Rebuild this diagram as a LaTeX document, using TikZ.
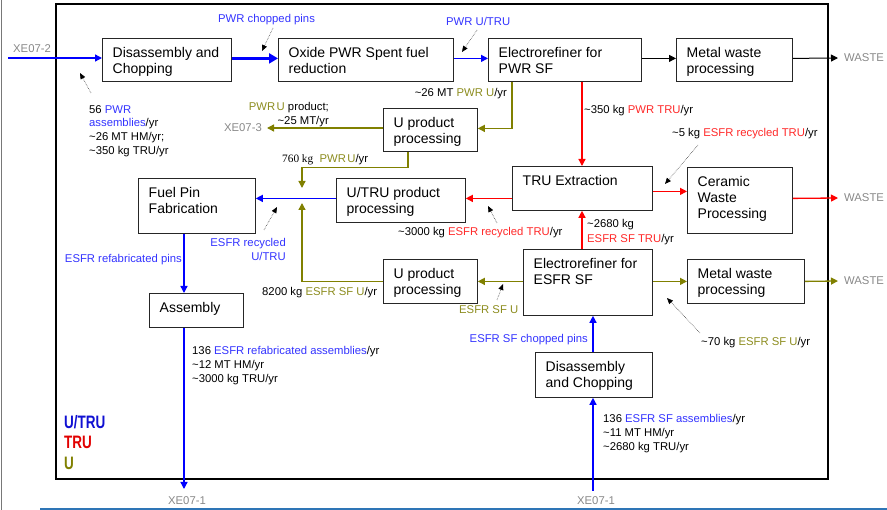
\documentclass[tikz,border=0pt]{standalone}
\usepackage{fontspec}
\usepackage{graphicx}
\setmainfont{Liberation Sans}
\newfontfamily\timesfont{Liberation Serif}
\usetikzlibrary{arrows.meta}

\definecolor{flowblue}{RGB}{0,0,255}
\definecolor{flowred}{RGB}{255,0,0}
\definecolor{flowolive}{RGB}{128,128,0}
\definecolor{labblue}{RGB}{51,51,255}
\definecolor{labred}{RGB}{255,40,40}
\definecolor{labolive}{RGB}{140,140,30}
\definecolor{extgray}{RGB}{136,136,136}
\definecolor{legblue}{RGB}{16,16,210}
\definecolor{legred}{RGB}{225,0,0}
\definecolor{rulegray}{RGB}{120,120,120}
\definecolor{ruleblue}{RGB}{46,117,182}

\newcommand\inblue[1]{\textcolor{labblue}{#1}}
\newcommand\inred[1]{\textcolor{labred}{#1}}
\newcommand\inolive[1]{\textcolor{labolive}{#1}}
\newcommand\apx{\textasciitilde}

% process box: name, x1, y1, x2, y2, text (text hangs from the top left corner)
\newcommand\stagebox[6]{%
  \node[stage, minimum width={(#4-#2)*1pt}, minimum height={(#5-#3)*1pt}] (#1) at (#2,#3) {};
  \node[stagetext] (#1-t) at ([shift={(10.5,8.8)}]#1.north west) {#6};
}

\begin{document}
\begin{tikzpicture}[x=1pt,y=-1pt,
  stage/.style={draw=black!85, line width=0.8pt, inner sep=0, anchor=north west},
  stagetext/.style={anchor=north west, inner sep=0, align=left, font=\fontsize{14}{16}\selectfont},
  lab/.style={inner sep=0, align=left, font=\fontsize{11.3}{13.8}\selectfont},
  ext/.style={inner sep=0, text=extgray, font=\fontsize{11.3}{13.8}\selectfont},
  legend/.style={inner sep=0, anchor=base west, font=\fontsize{18}{18}\selectfont\bfseries},
  flow/.style={line width=1.3pt, -{Triangle[length=7pt,width=7pt]}},
  fb/.style={flow, draw=flowblue},
  fr/.style={flow, draw=flowred},
  fo/.style={flow, draw=flowolive},
  fk/.style={flow, draw=black, line width=1pt},
  ptr/.style={densely dotted, line width=0.6pt, draw=black!75, -{Triangle[length=6pt,width=5pt,black]}}]

\useasboundingbox (0,0) rectangle (887,510);

% page rules and the system boundary
\draw[rulegray, line width=1pt] (1,0) -- (1,510);
\draw[ruleblue, line width=1.2pt] (40,509) -- (887,509);
\draw[line width=2pt] (56,4) rectangle (828,479);

% process stages
\stagebox{b1}{102}{38}{231}{81}{Disassembly and\\Chopping}
\stagebox{b2}{278}{38}{453}{81}{Oxide PWR Spent fuel\\reduction}
\stagebox{b3}{488}{38}{641}{81}{Electrorefiner for\\PWR SF}
\stagebox{b4}{676}{38}{792}{81}{Metal waste\\processing}
\stagebox{b5}{383}{108}{477}{151}{U product\\processing}
\stagebox{b6}{512}{166}{652}{210}{TRU Extraction}
\stagebox{b7}{687}{167}{792}{233}{Ceramic\\Waste\\Processing}
\stagebox{b8}{138}{178}{255}{233}{Fuel Pin\\Fabrication}
\stagebox{b9}{336}{178}{465}{222}{U/TRU product\\processing}
\stagebox{b10}{383}{259}{477}{303}{U product\\processing}
\stagebox{b11}{523}{249}{652}{315}{Electrorefiner for\\ESFR SF}
\stagebox{b12}{687}{259}{804}{303}{Metal waste\\processing}
\stagebox{b13}{149}{293}{243}{327}{Assembly}
\stagebox{b14}{535}{352}{652}{397}{Disassembly\\and Chopping}

% external streams
\node[ext, anchor=base west] (xe2) at (13,53) {XE07-2};
\node[ext, anchor=east] (xe3) at (262,128) {XE07-3};
\node[ext] (xe1a) at (187,501) {XE07-1};
\node[ext] (xe1b) at (596,501) {XE07-1};
\node[ext, anchor=west] (w1) at (844,58) {WASTE};
\node[ext, anchor=west] (w2) at (844,198) {WASTE};
\node[ext, anchor=west] (w3) at (844,281) {WASTE};

\coordinate (src2) at (8,58);
\coordinate (src1) at (593,491);
\coordinate (out1) at (184,489);
\coordinate (mergeD) at (302,188);
\coordinate (mergeU) at (302,203);

% PWR line
\draw[fb] (src2) -- (src2 -| b1.west);
\draw[fb, line width=3.2pt, -{Triangle[length=9pt,width=10pt]}] ([yshift=1.5pt]b1.east) -- ([yshift=1.5pt]b2.west);
\draw[fb] ([yshift=1.5pt]b2.east) -- ([yshift=1.5pt]b3.west);
\draw[fk] ([yshift=1.5pt]b3.east) -- ([yshift=1.5pt]b4.west);
\draw[fk] ([yshift=1.5pt]b4.east) -- ([xshift=-6pt]w1.west);
\draw[fo] ([xshift=24pt]b3.south west) |- ([yshift=1.5pt]b5.east);
\draw[fo] (b5.west |- xe3.east) -- ([xshift=5pt]xe3.east);
\draw[fo] ([xshift=25pt]b5.south west) -- ++(0,16) -| (mergeD);
\draw[fr] ([xshift=94pt]b3.south west) -- ([xshift=70pt]b6.north west);

% recycle and refabrication
\draw[fb] ([yshift=2pt]b9.west) -- ([yshift=7.5pt]b8.east);
\draw[fo] (b10.west) -| (mergeU);
\draw[fb] ([xshift=46pt]b8.south west) -- ([xshift=35pt]b13.north west);
\draw[fb] ([xshift=35pt]b13.south west) -- (out1);
\draw[fr] ([yshift=-10pt]b6.west) -- ([yshift=2pt]b9.east);
\draw[fr] ([yshift=-3pt]b6.east) -- ([yshift=9pt]b7.west);
\draw[fr] ([yshift=2pt]b7.east) -- ([xshift=-6pt]w2.west);

% ESFR line
\draw[fb] (src1) -- ([xshift=58pt]b14.south west);
\draw[fb] ([xshift=58pt]b14.north west) -- ([xshift=70pt]b11.south west);
\draw[fr] ([xshift=59pt]b11.north west) -- ([xshift=70pt]b6.south west);
\draw[fo] ([yshift=1pt]b11.west) -- (b10.east);
\draw[fo] ([yshift=1pt]b11.east) -- (b12.west);
\draw[fo] (b12.east) -- ([xshift=-6pt]w3.west);

% stream labels
\node[lab, anchor=north west] (lab56) at (89,105) {56 \inblue{PWR}\\\inblue{assemblies}/yr\\\apx26 MT HM/yr;\\\apx350 kg TRU/yr};
\node[lab, anchor=base west, text=labblue] (lchop) at (218,23) {PWR chopped pins};
\node[lab, anchor=base west, text=labblue] (lputru) at (446,26) {PWR U/TRU};
\node[lab, anchor=base east] (l26) at (507,97) {\apx26 MT \inolive{PWR U}/yr};
\node[lab, anchor=north east, align=right] (lpu) at (329,102) {\inolive{PWR\kern1.5pt U} product;\\\apx25 MT/yr};
\node[lab, anchor=base west] (l760) at (282,163) {{\timesfont 760 kg}\ \ \inolive{PWR\kern1.5pt U}/yr};
\node[lab, anchor=base west] (l350) at (584,114) {\apx350 kg \inred{PWR TRU}/yr};
\node[lab, anchor=base west] (l5) at (672,137) {\apx5 kg \inred{ESFR recycled TRU}/yr};
\node[lab, anchor=north east, align=right, text=labblue] (lrec) at (286,238) {ESFR recycled\\U/TRU};
\node[lab, anchor=base west] (l3000) at (398,236) {\apx3000 kg \inred{ESFR recycled TRU}/yr};
\node[lab, anchor=north west, font=\fontsize{11.3}{14.8}\selectfont] (l2680) at (587,219) {\apx2680 kg\\\inred{ESFR SF TRU}/yr};
\node[lab, anchor=base west] (l8200) at (262,296) {8200 kg \inolive{ESFR SF U}/yr};
\node[lab, anchor=base east, text=labblue] (lpins) at (182,263) {ESFR refabricated pins};
\node[lab, anchor=base west, text=labolive] (lsfu) at (459,314) {ESFR SF U};
\node[lab, anchor=base west] (l70) at (701,346) {\apx70 kg \inolive{ESFR SF U}/yr};
\node[lab, anchor=base east, text=labblue] (lchopE) at (588,343) {ESFR SF chopped pins};
\node[lab, anchor=north west, font=\fontsize{11.3}{14}\selectfont] (l136a) at (192,346) {136 \inblue{ESFR refabricated assemblies}/yr\\\apx12 MT HM/yr\\\apx3000 kg TRU/yr};
\node[lab, anchor=north west, font=\fontsize{11.3}{14}\selectfont] (l136b) at (603,414) {136 \inblue{ESFR SF assemblies}/yr\\\apx11 MT HM/yr\\\apx2680 kg TRU/yr};

% callout pointers
\coordinate (tip1) at (80,73);
\coordinate (tip2) at (262,51);
\coordinate (tip3) at (462,52);
\coordinate (tip4) at (277,207);
\coordinate (tip5) at (488,206);
\coordinate (tip6) at (665,184);
\coordinate (tip7) at (503,284);
\coordinate (tip8) at (667,298);
\draw[ptr] ([shift={(2,-12)}]lab56.north west) -- (tip1);
\draw[ptr] ([shift={(55,5)}]lchop.base west) -- (tip2);
\draw[ptr] ([shift={(31,4)}]lputru.base west) -- (tip3);
\draw[ptr] ([shift={(-22,-8)}]lrec.north east) -- (tip4);
\draw[ptr] ([shift={(99,-13)}]l3000.base west) -- (tip5);
\draw[ptr] ([shift={(26,8)}]l5.base west) -- (tip6);
\draw[ptr] ([shift={(38,-14)}]lsfu.base west) -- (tip7);
\draw[ptr] ([shift={(-1,-13)}]l70.base west) -- (tip8);

% legend
\node[legend, text=legblue] (legut) at (64,429) {\scalebox{0.75}[1]{U/TRU}};
\node[legend, text=legred] (legt) at (64,449) {\scalebox{0.75}[1]{TRU}};
\node[legend, text=flowolive] (legu) at (64,470) {\scalebox{0.75}[1]{U}};
\end{tikzpicture}
\end{document}
